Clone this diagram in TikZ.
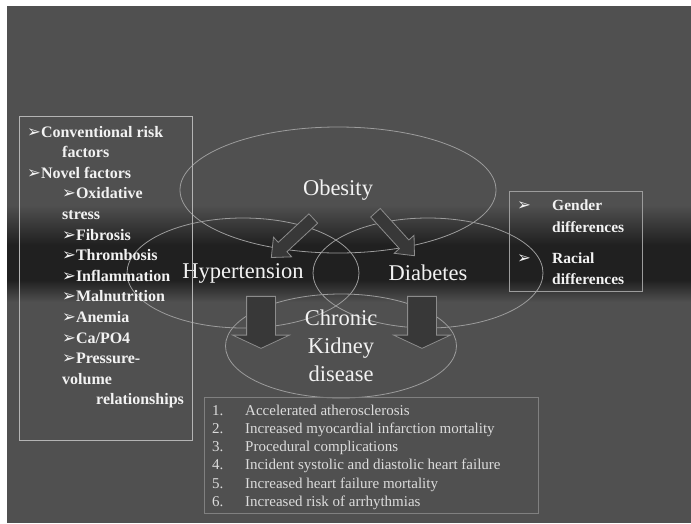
\documentclass[tikz,border=0pt]{standalone}
\usepackage{fontspec}
\setmainfont{Liberation Serif}
\newfontfamily\symfont{DejaVu Sans}
\usepackage{tikz}
\usetikzlibrary{shapes.geometric,shapes.arrows,calc,positioning}
\definecolor{slidegray}{HTML}{505050}
\definecolor{banddark}{HTML}{202020}
\definecolor{ringgray}{HTML}{9C9C9C}
\definecolor{arrowfill}{HTML}{383838}
\definecolor{arrowedge}{HTML}{8C8C8C}
\definecolor{boxline}{HTML}{B4B4B4}
\definecolor{softwhite}{HTML}{F2F2F2}
\definecolor{listgray}{HTML}{DCDCDC}
\newcommand{\bul}{{\symfont\fontsize{16.5}{16.5}\selectfont ➢}}
\tikzset{
  ring/.style={ellipse, draw=ringgray, line width=0.8pt, inner sep=0pt, text=softwhite, align=center,
    font=\rmfamily\fontsize{22.5}{28}\selectfont},
  panel/.style={draw=boxline, line width=1pt, inner sep=0pt, anchor=north west},
  risktext/.style={anchor=base west, inner sep=0pt, text=softwhite, font=\rmfamily\fontsize{16}{16}\selectfont\bfseries},
  listtext/.style={anchor=base west, inner sep=0pt, text=listgray, font=\rmfamily\fontsize{15}{15}\selectfont},
  blockarr/.style={to path={let \p1=($(\tikztotarget)-(\tikztostart)$), \n1={veclen(\x1,\y1)}, \n2={atan2(\y1,\x1)} in
    node[single arrow, draw=arrowedge, fill=arrowfill, line width=0.8pt, inner xsep=0pt,
      minimum height=\n1, rotate=\n2, #1] at ($(\tikztostart)!0.5!(\tikztotarget)$) {}}},
  slantarr/.style={blockarr={inner ysep=6pt, single arrow head extend=7pt, single arrow tip angle=82}},
  droparr/.style={blockarr={inner ysep=14pt, single arrow head extend=14pt, single arrow tip angle=130}}
}

\begin{document}
\begin{tikzpicture}[x=1pt,y=-1pt]
  \useasboundingbox (0,0) rectangle (691,523);
  % slide background with dark band
  \fill[white] (0,0) rectangle (691,523);
  \fill[slidegray] (7,6) rectangle (691,523);
  \fill[top color=slidegray, bottom color=banddark] (7,205) rectangle (691,245);
  \fill[banddark] (7,245) rectangle (691,280);
  \fill[top color=banddark, bottom color=slidegray] (7,280) rectangle (691,302);

  % circles
  \node[ring, minimum width=316, minimum height=126] (obesity) at (338,190) {Obesity};
  \node[ring, minimum width=232, minimum height=110] (hyper) at (243,273) {Hypertension};
  \node[ring, minimum width=230, minimum height=110] (diab) at (428,273) {Diabetes};
  \node[ring, minimum width=231, minimum height=104] (ckd) at (341,346) {Chronic\\Kidney\\disease};

  % block arrows
  \coordinate (ohtail) at (316,216);
  \coordinate (ohtip) at (274,255);
  \coordinate (odtail) at (373,210);
  \coordinate (odtip) at (412,253);
  \coordinate (hktail) at (261,293);
  \coordinate (hktip) at (261,345);
  \coordinate (dktail) at (422,293);
  \coordinate (dktip) at (422,345);
  \path (ohtail) to[slantarr] (ohtip);
  \path (odtail) to[slantarr] (odtip);
  \path (hktail) to[droparr] (hktip);
  \path (dktail) to[droparr] (dktip);

  % risk factors
  \node[panel, line width=1.4pt, minimum width=173, minimum height=324] (riskbox) at (19,116) {};
  \foreach \dx/\txt [count=\i from 0] in {27/{\bul Conventional risk}, 62/factors, 27/{\bul Novel factors},
      62/{\bul Oxidative}, 62/stress, 62/{\bul Fibrosis}, 62/{\bul Thrombosis}, 62/{\bul Inflammation},
      62/{\bul Malnutrition}, 62/{\bul Anemia}, 62/{\bul Ca/PO4}, 62/{\bul Pressure-}, 62/volume, 96/relationships}
    \node[risktext] (risk\i) at (\dx,137+20.6*\i) {\txt};

  % gender / race
  \node[panel, draw=ringgray, minimum width=133, minimum height=100] (groupbox) at (509,191) {};
  \node[risktext, font=\rmfamily\fontsize{15.5}{15.5}\selectfont\bfseries] (gbul) at (517,210) {\bul};
  \node[risktext, font=\rmfamily\fontsize{15.5}{15.5}\selectfont\bfseries] (gender) at (552,210) {Gender};
  \node[risktext, font=\rmfamily\fontsize{15.5}{15.5}\selectfont\bfseries] (gdiff) at (552,232) {differences};
  \node[risktext, font=\rmfamily\fontsize{15.5}{15.5}\selectfont\bfseries] (rbul) at (517,263) {\bul};
  \node[risktext, font=\rmfamily\fontsize{15.5}{15.5}\selectfont\bfseries] (racial) at (552,263) {Racial};
  \node[risktext, font=\rmfamily\fontsize{15.5}{15.5}\selectfont\bfseries] (rdiff) at (552,284) {differences};

  % outcomes
  \node[panel, draw=gray, line width=0.8pt, minimum width=334, minimum height=116] (outbox) at (204,397) {};
  \foreach \txt [count=\i] in {Accelerated atherosclerosis, Increased myocardial infarction mortality,
      Procedural complications, Incident systolic and diastolic heart failure,
      Increased heart failure mortality, Increased risk of arrhythmias} {
    \node[listtext] (num\i) at (212,397+18.2*\i) {\i.};
    \node[listtext] (out\i) at (245,397+18.2*\i) {\txt};
  }
\end{tikzpicture}
\end{document}
